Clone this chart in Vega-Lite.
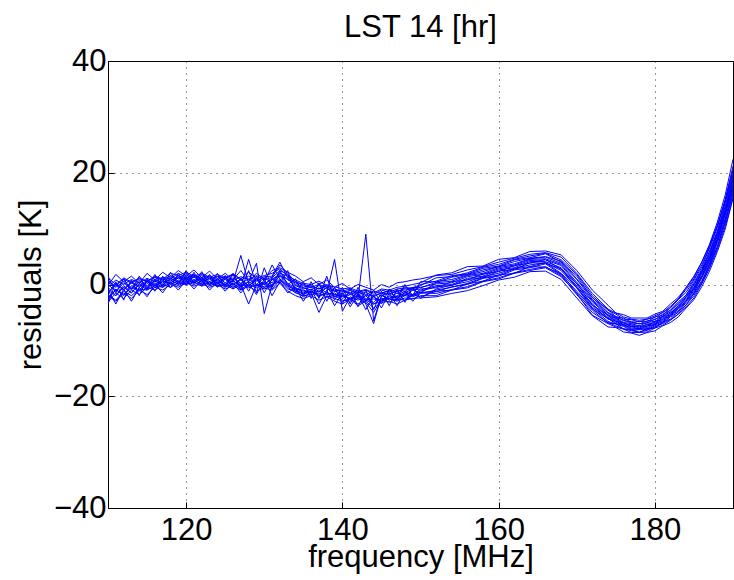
{"$schema":"https://vega.github.io/schema/vega-lite/v6.json","width":625,"height":447,"autosize":{"type":"none"},"padding":{"left":108,"top":61,"right":1,"bottom":72},
"title":{"text":"LST 14 [hr]","fontSize":31,"font":"Liberation Sans","fontWeight":"normal","color":"black","offset":1},
"config":{"view":{"stroke":"black","strokeWidth":1},"font":"Liberation Sans"},
"datasets":{"d":[
{"f":110,"s":1,"r":0.5},{"f":111,"s":1,"r":-0.3},{"f":112,"s":1,"r":1.2},{"f":113,"s":1,"r":0.4},{"f":114,"s":1,"r":1.0},{"f":115,"s":1,"r":0.6},{"f":116,"s":1,"r":1.5},{"f":117,"s":1,"r":1.0},{"f":118,"s":1,"r":2.0},{"f":119,"s":1,"r":1.6},{"f":120,"s":1,"r":2.2},{"f":121,"s":1,"r":1.5},{"f":122,"s":1,"r":2.0},{"f":123,"s":1,"r":1.3},{"f":124,"s":1,"r":1.8},{"f":125,"s":1,"r":1.2},{"f":126,"s":1,"r":1.9},{"f":127,"s":1,"r":1.0},{"f":128,"s":1,"r":2.2},{"f":129,"s":1,"r":1.1},{"f":130,"s":1,"r":1.6},{"f":131,"s":1,"r":2.0},{"f":132,"s":1,"r":2.8},{"f":133,"s":1,"r":1.5},{"f":134,"s":1,"r":0.8},{"f":135,"s":1,"r":0.2},{"f":136,"s":1,"r":0.0},{"f":137,"s":1,"r":0.6},{"f":138,"s":1,"r":-0.2},{"f":139,"s":1,"r":-0.4},{"f":140,"s":1,"r":-0.8},{"f":141,"s":1,"r":-0.6},{"f":142,"s":1,"r":-1.2},{"f":143,"s":1,"r":-0.9},{"f":144,"s":1,"r":-1.5},{"f":145,"s":1,"r":-0.8},{"f":146,"s":1,"r":-1.0},{"f":147,"s":1,"r":-0.5},{"f":148,"s":1,"r":-0.3},{"f":149,"s":1,"r":0.0},{"f":150,"s":1,"r":0.3},
{"f":152,"s":1,"r":1.7},{"f":154,"s":1,"r":2.1},{"f":156,"s":1,"r":3.2},{"f":158,"s":1,"r":3.3},{"f":160,"s":1,"r":4.5},{"f":162,"s":1,"r":4.8},{"f":164,"s":1,"r":5.9},{"f":166,"s":1,"r":6.0},{"f":168,"s":1,"r":5.3},{"f":170,"s":1,"r":2.5},{"f":172,"s":1,"r":-1.0},{"f":174,"s":1,"r":-3.7},{"f":175,"s":1,"r":-5.1},{"f":176,"s":1,"r":-5.4},{"f":177,"s":1,"r":-6.0},{"f":178,"s":1,"r":-6.0},{"f":179,"s":1,"r":-6.0},{"f":180,"s":1,"r":-5.3},{"f":181,"s":1,"r":-4.8},{"f":182,"s":1,"r":-3.5},{"f":183,"s":1,"r":-2.3},{"f":184,"s":1,"r":-0.6},{"f":185,"s":1,"r":1.3},{"f":186,"s":1,"r":4.0},{"f":187,"s":1,"r":7.2},{"f":188,"s":1,"r":11.2},{"f":189,"s":1,"r":16.0},{"f":190,"s":1,"r":22.4},
{"f":110,"s":2,"r":-0.5},{"f":111,"s":2,"r":0.8},{"f":112,"s":2,"r":0.0},{"f":113,"s":2,"r":0.9},{"f":114,"s":2,"r":0.3},{"f":115,"s":2,"r":1.1},{"f":116,"s":2,"r":0.5},{"f":117,"s":2,"r":1.3},{"f":118,"s":2,"r":1.0},{"f":119,"s":2,"r":2.0},{"f":120,"s":2,"r":1.2},{"f":121,"s":2,"r":1.8},{"f":122,"s":2,"r":1.0},{"f":123,"s":2,"r":1.6},{"f":124,"s":2,"r":0.8},{"f":125,"s":2,"r":1.5},{"f":126,"s":2,"r":0.7},{"f":127,"s":2,"r":1.4},{"f":128,"s":2,"r":0.9},{"f":129,"s":2,"r":1.6},{"f":130,"s":2,"r":0.8},{"f":131,"s":2,"r":1.3},{"f":132,"s":2,"r":3.5},{"f":133,"s":2,"r":2.0},{"f":134,"s":2,"r":0.5},{"f":135,"s":2,"r":-0.2},{"f":136,"s":2,"r":-0.5},{"f":137,"s":2,"r":0.0},{"f":138,"s":2,"r":-0.5},{"f":139,"s":2,"r":-1.0},{"f":140,"s":2,"r":-1.2},{"f":141,"s":2,"r":-1.5},{"f":142,"s":2,"r":-1.0},{"f":143,"s":2,"r":-1.8},{"f":144,"s":2,"r":-1.2},{"f":145,"s":2,"r":-1.6},{"f":146,"s":2,"r":-1.0},{"f":147,"s":2,"r":-1.3},{"f":148,"s":2,"r":-0.6},{"f":149,"s":2,"r":-0.8},{"f":150,"s":2,"r":-0.2},
{"f":152,"s":2,"r":1.2},{"f":154,"s":2,"r":1.4},{"f":156,"s":2,"r":2.1},{"f":158,"s":2,"r":3.1},{"f":160,"s":2,"r":3.6},{"f":162,"s":2,"r":4.5},{"f":164,"s":2,"r":5.1},{"f":166,"s":2,"r":5.6},{"f":168,"s":2,"r":4.4},{"f":170,"s":2,"r":1.8},{"f":172,"s":2,"r":-2.0},{"f":174,"s":2,"r":-4.6},{"f":175,"s":2,"r":-5.3},{"f":176,"s":2,"r":-6.2},{"f":177,"s":2,"r":-6.3},{"f":178,"s":2,"r":-6.7},{"f":179,"s":2,"r":-6.2},{"f":180,"s":2,"r":-5.9},{"f":181,"s":2,"r":-5.0},{"f":182,"s":2,"r":-4.2},{"f":183,"s":2,"r":-2.7},{"f":184,"s":2,"r":-1.4},{"f":185,"s":2,"r":0.8},{"f":186,"s":2,"r":3.1},{"f":187,"s":2,"r":6.5},{"f":188,"s":2,"r":10.2},{"f":189,"s":2,"r":15.1},{"f":190,"s":2,"r":20.6},
{"f":110,"s":3,"r":-1.5},{"f":111,"s":3,"r":0.2},{"f":112,"s":3,"r":-0.8},{"f":113,"s":3,"r":0.5},{"f":114,"s":3,"r":-0.3},{"f":115,"s":3,"r":0.8},{"f":116,"s":3,"r":0.0},{"f":117,"s":3,"r":1.0},{"f":118,"s":3,"r":0.6},{"f":119,"s":3,"r":1.5},{"f":120,"s":3,"r":1.0},{"f":121,"s":3,"r":1.7},{"f":122,"s":3,"r":0.8},{"f":123,"s":3,"r":1.4},{"f":124,"s":3,"r":0.5},{"f":125,"s":3,"r":1.2},{"f":126,"s":3,"r":0.4},{"f":127,"s":3,"r":5.2},{"f":128,"s":3,"r":0.2},{"f":129,"s":3,"r":1.0},{"f":130,"s":3,"r":0.0},{"f":131,"s":3,"r":1.2},{"f":132,"s":3,"r":2.5},{"f":133,"s":3,"r":1.8},{"f":134,"s":3,"r":0.0},{"f":135,"s":3,"r":-0.6},{"f":136,"s":3,"r":-1.0},{"f":137,"s":3,"r":-0.2},{"f":138,"s":3,"r":-0.8},{"f":139,"s":3,"r":-1.2},{"f":140,"s":3,"r":-1.6},{"f":141,"s":3,"r":-1.0},{"f":142,"s":3,"r":-1.8},{"f":143,"s":3,"r":-1.4},{"f":144,"s":3,"r":-2.2},{"f":145,"s":3,"r":-1.5},{"f":146,"s":3,"r":-1.8},{"f":147,"s":3,"r":-1.0},{"f":148,"s":3,"r":-1.2},{"f":149,"s":3,"r":-0.5},{"f":150,"s":3,"r":-0.6},
{"f":152,"s":3,"r":0.4},{"f":154,"s":3,"r":1.3},{"f":156,"s":3,"r":1.8},{"f":158,"s":3,"r":2.6},{"f":160,"s":3,"r":3.2},{"f":162,"s":3,"r":4.1},{"f":164,"s":3,"r":4.7},{"f":166,"s":3,"r":5.0},{"f":168,"s":3,"r":4.2},{"f":170,"s":3,"r":1.0},{"f":172,"s":3,"r":-2.3},{"f":174,"s":3,"r":-5.0},{"f":175,"s":3,"r":-5.7},{"f":176,"s":3,"r":-6.5},{"f":177,"s":3,"r":-6.6},{"f":178,"s":3,"r":-7.1},{"f":179,"s":3,"r":-6.5},{"f":180,"s":3,"r":-6.3},{"f":181,"s":3,"r":-5.3},{"f":182,"s":3,"r":-4.6},{"f":183,"s":3,"r":-3.1},{"f":184,"s":3,"r":-1.9},{"f":185,"s":3,"r":0.4},{"f":186,"s":3,"r":2.7},{"f":187,"s":3,"r":6.0},{"f":188,"s":3,"r":9.6},{"f":189,"s":3,"r":14.5},{"f":190,"s":3,"r":19.9},
{"f":110,"s":4,"r":-2.5},{"f":111,"s":4,"r":-1.0},{"f":112,"s":4,"r":-1.8},{"f":113,"s":4,"r":-0.5},{"f":114,"s":4,"r":-1.2},{"f":115,"s":4,"r":0.2},{"f":116,"s":4,"r":-0.5},{"f":117,"s":4,"r":0.5},{"f":118,"s":4,"r":0.2},{"f":119,"s":4,"r":1.2},{"f":120,"s":4,"r":0.5},{"f":121,"s":4,"r":1.4},{"f":122,"s":4,"r":0.3},{"f":123,"s":4,"r":1.2},{"f":124,"s":4,"r":0.2},{"f":125,"s":4,"r":0.9},{"f":126,"s":4,"r":0.0},{"f":127,"s":4,"r":1.0},{"f":128,"s":4,"r":-0.2},{"f":129,"s":4,"r":0.8},{"f":130,"s":4,"r":-0.5},{"f":131,"s":4,"r":0.8},{"f":132,"s":4,"r":2.0},{"f":133,"s":4,"r":1.5},{"f":134,"s":4,"r":-0.8},{"f":135,"s":4,"r":-1.2},{"f":136,"s":4,"r":-1.4},{"f":137,"s":4,"r":-0.6},{"f":138,"s":4,"r":-1.5},{"f":139,"s":4,"r":-1.8},{"f":140,"s":4,"r":-2.2},{"f":141,"s":4,"r":-1.5},{"f":142,"s":4,"r":-2.5},{"f":143,"s":4,"r":9.0},{"f":144,"s":4,"r":-6.5},{"f":145,"s":4,"r":-2.0},{"f":146,"s":4,"r":-2.5},{"f":147,"s":4,"r":-1.5},{"f":148,"s":4,"r":-2.0},{"f":149,"s":4,"r":-1.0},{"f":150,"s":4,"r":-1.5},
{"f":152,"s":4,"r":0.3},{"f":154,"s":4,"r":0.6},{"f":156,"s":4,"r":1.6},{"f":158,"s":4,"r":2.0},{"f":160,"s":4,"r":3.0},{"f":162,"s":4,"r":3.5},{"f":164,"s":4,"r":4.5},{"f":166,"s":4,"r":4.6},{"f":168,"s":4,"r":3.6},{"f":170,"s":4,"r":0.4},{"f":172,"s":4,"r":-2.9},{"f":174,"s":4,"r":-5.4},{"f":175,"s":4,"r":-6.0},{"f":176,"s":4,"r":-6.8},{"f":177,"s":4,"r":-7.0},{"f":178,"s":4,"r":-7.4},{"f":179,"s":4,"r":-6.8},{"f":180,"s":4,"r":-6.6},{"f":181,"s":4,"r":-5.7},{"f":182,"s":4,"r":-4.9},{"f":183,"s":4,"r":-3.5},{"f":184,"s":4,"r":-2.2},{"f":185,"s":4,"r":-0.1},{"f":186,"s":4,"r":2.3},{"f":187,"s":4,"r":5.4},{"f":188,"s":4,"r":9.2},{"f":189,"s":4,"r":13.6},{"f":190,"s":4,"r":19.1},
{"f":110,"s":5,"r":-1.0},{"f":111,"s":5,"r":-2.0},{"f":112,"s":5,"r":-0.5},{"f":113,"s":5,"r":-1.5},{"f":114,"s":5,"r":0.2},{"f":115,"s":5,"r":-0.8},{"f":116,"s":5,"r":0.8},{"f":117,"s":5,"r":-0.2},{"f":118,"s":5,"r":1.2},{"f":119,"s":5,"r":0.3},{"f":120,"s":5,"r":1.5},{"f":121,"s":5,"r":0.5},{"f":122,"s":5,"r":1.3},{"f":123,"s":5,"r":0.2},{"f":124,"s":5,"r":1.0},{"f":125,"s":5,"r":0.0},{"f":126,"s":5,"r":0.8},{"f":127,"s":5,"r":-0.5},{"f":128,"s":5,"r":4.5},{"f":129,"s":5,"r":-0.2},{"f":130,"s":5,"r":0.5},{"f":131,"s":5,"r":-0.5},{"f":132,"s":5,"r":1.8},{"f":133,"s":5,"r":0.2},{"f":134,"s":5,"r":-0.5},{"f":135,"s":5,"r":-1.5},{"f":136,"s":5,"r":-0.8},{"f":137,"s":5,"r":-1.8},{"f":138,"s":5,"r":-0.5},{"f":139,"s":5,"r":-2.2},{"f":140,"s":5,"r":-1.5},{"f":141,"s":5,"r":-2.8},{"f":142,"s":5,"r":-1.8},{"f":143,"s":5,"r":-2.5},{"f":144,"s":5,"r":-3.2},{"f":145,"s":5,"r":-1.8},{"f":146,"s":5,"r":-2.8},{"f":147,"s":5,"r":-2.0},{"f":148,"s":5,"r":-1.2},{"f":149,"s":5,"r":-2.0},{"f":150,"s":5,"r":-0.8},
{"f":152,"s":5,"r":-0.6},{"f":154,"s":5,"r":0.5},{"f":156,"s":5,"r":0.8},{"f":158,"s":5,"r":1.9},{"f":160,"s":5,"r":2.3},{"f":162,"s":5,"r":3.4},{"f":164,"s":5,"r":3.8},{"f":166,"s":5,"r":4.5},{"f":168,"s":5,"r":2.7},{"f":170,"s":5,"r":0.2},{"f":172,"s":5,"r":-3.7},{"f":174,"s":5,"r":-5.5},{"f":175,"s":5,"r":-6.6},{"f":176,"s":5,"r":-6.8},{"f":177,"s":5,"r":-7.6},{"f":178,"s":5,"r":-7.4},{"f":179,"s":5,"r":-7.5},{"f":180,"s":5,"r":-6.6},{"f":181,"s":5,"r":-6.3},{"f":182,"s":5,"r":-5.0},{"f":183,"s":5,"r":-4.2},{"f":184,"s":5,"r":-2.3},{"f":185,"s":5,"r":-0.8},{"f":186,"s":5,"r":2.0},{"f":187,"s":5,"r":4.6},{"f":188,"s":5,"r":8.7},{"f":189,"s":5,"r":12.8},{"f":190,"s":5,"r":18.5},
{"f":110,"s":6,"r":0.0},{"f":111,"s":6,"r":-1.2},{"f":112,"s":6,"r":0.3},{"f":113,"s":6,"r":-0.8},{"f":114,"s":6,"r":0.5},{"f":115,"s":6,"r":-0.5},{"f":116,"s":6,"r":0.6},{"f":117,"s":6,"r":0.0},{"f":118,"s":6,"r":1.0},{"f":119,"s":6,"r":0.5},{"f":120,"s":6,"r":1.2},{"f":121,"s":6,"r":0.3},{"f":122,"s":6,"r":1.0},{"f":123,"s":6,"r":0.0},{"f":124,"s":6,"r":0.8},{"f":125,"s":6,"r":-0.3},{"f":126,"s":6,"r":0.6},{"f":127,"s":6,"r":-0.2},{"f":128,"s":6,"r":0.5},{"f":129,"s":6,"r":3.8},{"f":130,"s":6,"r":-5.2},{"f":131,"s":6,"r":0.0},{"f":132,"s":6,"r":1.5},{"f":133,"s":6,"r":0.0},{"f":134,"s":6,"r":-0.8},{"f":135,"s":6,"r":-1.0},{"f":136,"s":6,"r":-1.5},{"f":137,"s":6,"r":-1.2},{"f":138,"s":6,"r":-1.8},{"f":139,"s":6,"r":-1.5},{"f":140,"s":6,"r":-2.5},{"f":141,"s":6,"r":-1.8},{"f":142,"s":6,"r":-2.2},{"f":143,"s":6,"r":-2.8},{"f":144,"s":6,"r":-2.2},{"f":145,"s":6,"r":-3.0},{"f":146,"s":6,"r":-2.0},{"f":147,"s":6,"r":-2.4},{"f":148,"s":6,"r":-1.5},{"f":149,"s":6,"r":-1.8},{"f":150,"s":6,"r":-1.2},
{"f":152,"s":6,"r":-0.4},{"f":154,"s":6,"r":-0.2},{"f":156,"s":6,"r":0.9},{"f":158,"s":6,"r":1.2},{"f":160,"s":6,"r":2.4},{"f":162,"s":6,"r":2.7},{"f":164,"s":6,"r":3.9},{"f":166,"s":6,"r":3.8},{"f":168,"s":6,"r":2.8},{"f":170,"s":6,"r":-0.6},{"f":172,"s":6,"r":-3.7},{"f":174,"s":6,"r":-6.2},{"f":175,"s":6,"r":-6.5},{"f":176,"s":6,"r":-7.4},{"f":177,"s":6,"r":-7.5},{"f":178,"s":6,"r":-8.0},{"f":179,"s":6,"r":-7.4},{"f":180,"s":6,"r":-7.2},{"f":181,"s":6,"r":-6.2},{"f":182,"s":6,"r":-5.6},{"f":183,"s":6,"r":-4.2},{"f":184,"s":6,"r":-2.9},{"f":185,"s":6,"r":-0.8},{"f":186,"s":6,"r":1.3},{"f":187,"s":6,"r":4.5},{"f":188,"s":6,"r":7.9},{"f":189,"s":6,"r":12.7},{"f":190,"s":6,"r":17.6},
{"f":110,"s":7,"r":-2.8},{"f":111,"s":7,"r":-0.8},{"f":112,"s":7,"r":-2.0},{"f":113,"s":7,"r":-0.2},{"f":114,"s":7,"r":-1.0},{"f":115,"s":7,"r":0.5},{"f":116,"s":7,"r":-0.3},{"f":117,"s":7,"r":0.8},{"f":118,"s":7,"r":0.0},{"f":119,"s":7,"r":0.6},{"f":120,"s":7,"r":0.2},{"f":121,"s":7,"r":0.8},{"f":122,"s":7,"r":0.0},{"f":123,"s":7,"r":0.5},{"f":124,"s":7,"r":-0.2},{"f":125,"s":7,"r":0.3},{"f":126,"s":7,"r":-0.5},{"f":127,"s":7,"r":0.2},{"f":128,"s":7,"r":-0.6},{"f":129,"s":7,"r":0.0},{"f":130,"s":7,"r":-0.8},{"f":131,"s":7,"r":-0.2},{"f":132,"s":7,"r":1.0},{"f":133,"s":7,"r":-0.3},{"f":134,"s":7,"r":-1.0},{"f":135,"s":7,"r":-1.8},{"f":136,"s":7,"r":-1.2},{"f":137,"s":7,"r":-2.0},{"f":138,"s":7,"r":-1.6},{"f":139,"s":7,"r":4.5},{"f":140,"s":7,"r":-4.8},{"f":141,"s":7,"r":-2.2},{"f":142,"s":7,"r":-2.8},{"f":143,"s":7,"r":-2.0},{"f":144,"s":7,"r":-3.5},{"f":145,"s":7,"r":-2.5},{"f":146,"s":7,"r":-2.6},{"f":147,"s":7,"r":-2.8},{"f":148,"s":7,"r":-2.0},{"f":149,"s":7,"r":-2.2},{"f":150,"s":7,"r":-1.6},
{"f":152,"s":7,"r":-1.0},{"f":154,"s":7,"r":-0.5},{"f":156,"s":7,"r":0.2},{"f":158,"s":7,"r":1.2},{"f":160,"s":7,"r":1.7},{"f":162,"s":7,"r":2.8},{"f":164,"s":7,"r":3.2},{"f":166,"s":7,"r":3.9},{"f":168,"s":7,"r":2.0},{"f":170,"s":7,"r":-0.6},{"f":172,"s":7,"r":-4.4},{"f":174,"s":7,"r":-6.1},{"f":175,"s":7,"r":-7.0},{"f":176,"s":7,"r":-7.3},{"f":177,"s":7,"r":-8.0},{"f":178,"s":7,"r":-8.0},{"f":179,"s":7,"r":-7.9},{"f":180,"s":7,"r":-7.2},{"f":181,"s":7,"r":-6.7},{"f":182,"s":7,"r":-5.6},{"f":183,"s":7,"r":-4.7},{"f":184,"s":7,"r":-3.0},{"f":185,"s":7,"r":-1.4},{"f":186,"s":7,"r":1.2},{"f":187,"s":7,"r":3.8},{"f":188,"s":7,"r":7.8},{"f":189,"s":7,"r":11.8},{"f":190,"s":7,"r":17.2},
{"f":110,"s":8,"r":-1.8},{"f":111,"s":8,"r":-2.8},{"f":112,"s":8,"r":-1.2},{"f":113,"s":8,"r":-2.0},{"f":114,"s":8,"r":-0.8},{"f":115,"s":8,"r":-1.0},{"f":116,"s":8,"r":-0.2},{"f":117,"s":8,"r":-0.5},{"f":118,"s":8,"r":0.3},{"f":119,"s":8,"r":-0.2},{"f":120,"s":8,"r":0.5},{"f":121,"s":8,"r":0.0},{"f":122,"s":8,"r":0.6},{"f":123,"s":8,"r":-0.2},{"f":124,"s":8,"r":0.3},{"f":125,"s":8,"r":-0.5},{"f":126,"s":8,"r":0.2},{"f":127,"s":8,"r":-0.8},{"f":128,"s":8,"r":0.0},{"f":129,"s":8,"r":-0.6},{"f":130,"s":8,"r":0.2},{"f":131,"s":8,"r":-0.8},{"f":132,"s":8,"r":0.8},{"f":133,"s":8,"r":-0.5},{"f":134,"s":8,"r":-1.5},{"f":135,"s":8,"r":-2.0},{"f":136,"s":8,"r":-1.8},{"f":137,"s":8,"r":-1.5},{"f":138,"s":8,"r":-2.2},{"f":139,"s":8,"r":-2.0},{"f":140,"s":8,"r":-2.8},{"f":141,"s":8,"r":-3.0},{"f":142,"s":8,"r":-2.5},{"f":143,"s":8,"r":-3.2},{"f":144,"s":8,"r":-5.0},{"f":145,"s":8,"r":-2.6},{"f":146,"s":8,"r":-3.2},{"f":147,"s":8,"r":-2.6},{"f":148,"s":8,"r":-2.8},{"f":149,"s":8,"r":-1.8},{"f":150,"s":8,"r":-2.2},
{"f":152,"s":8,"r":-1.2},{"f":154,"s":8,"r":-1.0},{"f":156,"s":8,"r":0.1},{"f":158,"s":8,"r":0.6},{"f":160,"s":8,"r":1.7},{"f":162,"s":8,"r":2.0},{"f":164,"s":8,"r":3.2},{"f":166,"s":8,"r":3.1},{"f":168,"s":8,"r":1.9},{"f":170,"s":8,"r":-1.5},{"f":172,"s":8,"r":-4.6},{"f":174,"s":8,"r":-6.9},{"f":175,"s":8,"r":-7.0},{"f":176,"s":8,"r":-8.0},{"f":177,"s":8,"r":-8.0},{"f":178,"s":8,"r":-8.6},{"f":179,"s":8,"r":-7.9},{"f":180,"s":8,"r":-7.8},{"f":181,"s":8,"r":-6.7},{"f":182,"s":8,"r":-6.2},{"f":183,"s":8,"r":-4.8},{"f":184,"s":8,"r":-3.7},{"f":185,"s":8,"r":-1.5},{"f":186,"s":8,"r":0.4},{"f":187,"s":8,"r":3.7},{"f":188,"s":8,"r":6.8},{"f":189,"s":8,"r":11.5},{"f":190,"s":8,"r":16.1},
{"f":110,"s":9,"r":-3.2},{"f":111,"s":9,"r":-1.5},{"f":112,"s":9,"r":-2.5},{"f":113,"s":9,"r":-1.0},{"f":114,"s":9,"r":-1.8},{"f":115,"s":9,"r":-0.5},{"f":116,"s":9,"r":-1.0},{"f":117,"s":9,"r":0.0},{"f":118,"s":9,"r":-0.5},{"f":119,"s":9,"r":0.3},{"f":120,"s":9,"r":0.0},{"f":121,"s":9,"r":0.5},{"f":122,"s":9,"r":-0.3},{"f":123,"s":9,"r":0.4},{"f":124,"s":9,"r":-0.4},{"f":125,"s":9,"r":0.0},{"f":126,"s":9,"r":-0.8},{"f":127,"s":9,"r":0.0},{"f":128,"s":9,"r":-3.5},{"f":129,"s":9,"r":0.0},{"f":130,"s":9,"r":-0.5},{"f":131,"s":9,"r":0.0},{"f":132,"s":9,"r":0.5},{"f":133,"s":9,"r":-0.8},{"f":134,"s":9,"r":-1.2},{"f":135,"s":9,"r":-2.2},{"f":136,"s":9,"r":-1.5},{"f":137,"s":9,"r":-5.0},{"f":138,"s":9,"r":-2.0},{"f":139,"s":9,"r":-2.5},{"f":140,"s":9,"r":-3.0},{"f":141,"s":9,"r":-2.5},{"f":142,"s":9,"r":-3.5},{"f":143,"s":9,"r":-2.8},{"f":144,"s":9,"r":-3.5},{"f":145,"s":9,"r":-3.0},{"f":146,"s":9,"r":-2.5},{"f":147,"s":9,"r":-3.0},{"f":148,"s":9,"r":-2.4},{"f":149,"s":9,"r":-2.6},{"f":150,"s":9,"r":-2.0},
{"f":152,"s":9,"r":-2.0},{"f":154,"s":9,"r":-1.0},{"f":156,"s":9,"r":-0.6},{"f":158,"s":9,"r":0.5},{"f":160,"s":9,"r":1.0},{"f":162,"s":9,"r":2.0},{"f":164,"s":9,"r":2.5},{"f":166,"s":9,"r":3.0},{"f":168,"s":9,"r":1.4},{"f":170,"s":9,"r":-1.6},{"f":172,"s":9,"r":-5.5},{"f":174,"s":9,"r":-7.0},{"f":175,"s":9,"r":-7.6},{"f":176,"s":9,"r":-8.0},{"f":177,"s":9,"r":-8.6},{"f":178,"s":9,"r":-8.6},{"f":179,"s":9,"r":-8.5},{"f":180,"s":9,"r":-7.8},{"f":181,"s":9,"r":-7.3},{"f":182,"s":9,"r":-6.4},{"f":183,"s":9,"r":-5.3},{"f":184,"s":9,"r":-4.0},{"f":185,"s":9,"r":-2.4},{"f":186,"s":9,"r":0.1},{"f":187,"s":9,"r":2.9},{"f":188,"s":9,"r":6.3},{"f":189,"s":9,"r":10.4},{"f":190,"s":9,"r":15.6},
{"f":110,"s":10,"r":-2.0},{"f":111,"s":10,"r":-3.0},{"f":112,"s":10,"r":-1.5},{"f":113,"s":10,"r":-2.5},{"f":114,"s":10,"r":-1.0},{"f":115,"s":10,"r":-1.8},{"f":116,"s":10,"r":-0.5},{"f":117,"s":10,"r":-1.0},{"f":118,"s":10,"r":0.0},{"f":119,"s":10,"r":-0.5},{"f":120,"s":10,"r":0.3},{"f":121,"s":10,"r":-0.3},{"f":122,"s":10,"r":0.2},{"f":123,"s":10,"r":-0.5},{"f":124,"s":10,"r":0.0},{"f":125,"s":10,"r":-0.8},{"f":126,"s":10,"r":-0.2},{"f":127,"s":10,"r":-1.0},{"f":128,"s":10,"r":-0.3},{"f":129,"s":10,"r":-1.2},{"f":130,"s":10,"r":-0.6},{"f":131,"s":10,"r":-1.0},{"f":132,"s":10,"r":0.2},{"f":133,"s":10,"r":-1.2},{"f":134,"s":10,"r":-2.0},{"f":135,"s":10,"r":-2.5},{"f":136,"s":10,"r":-2.0},{"f":137,"s":10,"r":-2.8},{"f":138,"s":10,"r":-2.2},{"f":139,"s":10,"r":-3.0},{"f":140,"s":10,"r":-3.5},{"f":141,"s":10,"r":-2.6},{"f":142,"s":10,"r":-3.8},{"f":143,"s":10,"r":-3.0},{"f":144,"s":10,"r":-4.2},{"f":145,"s":10,"r":-3.2},{"f":146,"s":10,"r":-3.0},{"f":147,"s":10,"r":-3.5},{"f":148,"s":10,"r":-2.8},{"f":149,"s":10,"r":-2.5},{"f":150,"s":10,"r":-2.4},
{"f":152,"s":10,"r":-2.2},{"f":154,"s":10,"r":-1.6},{"f":156,"s":10,"r":-1.1},{"f":158,"s":10,"r":-0.2},{"f":160,"s":10,"r":0.8},{"f":162,"s":10,"r":1.3},{"f":164,"s":10,"r":2.3},{"f":166,"s":10,"r":2.4},{"f":168,"s":10,"r":0.9},{"f":170,"s":10,"r":-2.4},{"f":172,"s":10,"r":-5.6},{"f":174,"s":10,"r":-7.6},{"f":175,"s":10,"r":-7.7},{"f":176,"s":10,"r":-8.5},{"f":177,"s":10,"r":-8.7},{"f":178,"s":10,"r":-9.1},{"f":179,"s":10,"r":-8.6},{"f":180,"s":10,"r":-8.3},{"f":181,"s":10,"r":-7.4},{"f":182,"s":10,"r":-6.8},{"f":183,"s":10,"r":-5.8},{"f":184,"s":10,"r":-4.2},{"f":185,"s":10,"r":-2.7},{"f":186,"s":10,"r":-0.4},{"f":187,"s":10,"r":2.4},{"f":188,"s":10,"r":5.9},{"f":189,"s":10,"r":9.9},{"f":190,"s":10,"r":15.4},
{"f":110,"s":11,"r":0.8},{"f":111,"s":11,"r":-0.5},{"f":112,"s":11,"r":0.6},{"f":113,"s":11,"r":-0.8},{"f":114,"s":11,"r":0.8},{"f":115,"s":11,"r":-0.3},{"f":116,"s":11,"r":1.0},{"f":117,"s":11,"r":0.2},{"f":118,"s":11,"r":1.5},{"f":119,"s":11,"r":0.6},{"f":120,"s":11,"r":1.8},{"f":121,"s":11,"r":0.8},{"f":122,"s":11,"r":1.6},{"f":123,"s":11,"r":0.5},{"f":124,"s":11,"r":1.4},{"f":125,"s":11,"r":0.3},{"f":126,"s":11,"r":1.2},{"f":127,"s":11,"r":0.2},{"f":128,"s":11,"r":1.0},{"f":129,"s":11,"r":0.0},{"f":130,"s":11,"r":1.2},{"f":131,"s":11,"r":0.3},{"f":132,"s":11,"r":2.2},{"f":133,"s":11,"r":0.8},{"f":134,"s":11,"r":0.3},{"f":135,"s":11,"r":-0.5},{"f":136,"s":11,"r":-0.2},{"f":137,"s":11,"r":-0.8},{"f":138,"s":11,"r":-0.3},{"f":139,"s":11,"r":-1.2},{"f":140,"s":11,"r":-1.0},{"f":141,"s":11,"r":-1.8},{"f":142,"s":11,"r":-1.3},{"f":143,"s":11,"r":-2.0},{"f":144,"s":11,"r":-2.0},{"f":145,"s":11,"r":-1.5},{"f":146,"s":11,"r":-1.2},{"f":147,"s":11,"r":-1.6},{"f":148,"s":11,"r":-0.8},{"f":149,"s":11,"r":-1.0},{"f":150,"s":11,"r":-0.5},
{"f":152,"s":11,"r":0.1},{"f":154,"s":11,"r":0.3},{"f":156,"s":11,"r":1.4},{"f":158,"s":11,"r":1.8},{"f":160,"s":11,"r":2.8},{"f":162,"s":11,"r":3.3},{"f":164,"s":11,"r":4.3},{"f":166,"s":11,"r":4.4},{"f":168,"s":11,"r":3.4},{"f":170,"s":11,"r":0.1},{"f":172,"s":11,"r":-3.1},{"f":174,"s":11,"r":-5.6},{"f":175,"s":11,"r":-6.1},{"f":176,"s":11,"r":-7.0},{"f":177,"s":11,"r":-7.2},{"f":178,"s":11,"r":-7.6},{"f":179,"s":11,"r":-7.1},{"f":180,"s":11,"r":-6.8},{"f":181,"s":11,"r":-5.8},{"f":182,"s":11,"r":-5.2},{"f":183,"s":11,"r":-3.8},{"f":184,"s":11,"r":-2.2},{"f":185,"s":11,"r":-0.5},{"f":186,"s":11,"r":2.2},{"f":187,"s":11,"r":5.0},{"f":188,"s":11,"r":9.0},{"f":189,"s":11,"r":13.2},{"f":190,"s":11,"r":18.9},
{"f":110,"s":12,"r":-1.5},{"f":111,"s":12,"r":0.0},{"f":112,"s":12,"r":-1.0},{"f":113,"s":12,"r":0.3},{"f":114,"s":12,"r":-0.5},{"f":115,"s":12,"r":0.5},{"f":116,"s":12,"r":-0.2},{"f":117,"s":12,"r":0.6},{"f":118,"s":12,"r":0.3},{"f":119,"s":12,"r":1.3},{"f":120,"s":12,"r":0.8},{"f":121,"s":12,"r":1.5},{"f":122,"s":12,"r":0.6},{"f":123,"s":12,"r":1.0},{"f":124,"s":12,"r":0.2},{"f":125,"s":12,"r":1.0},{"f":126,"s":12,"r":0.0},{"f":127,"s":12,"r":0.8},{"f":128,"s":12,"r":-0.3},{"f":129,"s":12,"r":1.0},{"f":130,"s":12,"r":0.0},{"f":131,"s":12,"r":1.0},{"f":132,"s":12,"r":1.6},{"f":133,"s":12,"r":1.0},{"f":134,"s":12,"r":-0.2},{"f":135,"s":12,"r":-0.8},{"f":136,"s":12,"r":-0.5},{"f":137,"s":12,"r":-1.2},{"f":138,"s":12,"r":-0.6},{"f":139,"s":12,"r":-1.8},{"f":140,"s":12,"r":-2.0},{"f":141,"s":12,"r":-2.5},{"f":142,"s":12,"r":-1.5},{"f":143,"s":12,"r":-3.5},{"f":144,"s":12,"r":-7.0},{"f":145,"s":12,"r":-2.0},{"f":146,"s":12,"r":-1.5},{"f":147,"s":12,"r":-2.2},{"f":148,"s":12,"r":-1.5},{"f":149,"s":12,"r":-0.8},{"f":150,"s":12,"r":-1.0},
{"f":152,"s":12,"r":-0.2},{"f":154,"s":12,"r":0.0},{"f":156,"s":12,"r":1.1},{"f":158,"s":12,"r":1.5},{"f":160,"s":12,"r":2.6},{"f":162,"s":12,"r":3.0},{"f":164,"s":12,"r":4.1},{"f":166,"s":12,"r":4.1},{"f":168,"s":12,"r":3.0},{"f":170,"s":12,"r":-0.3},{"f":172,"s":12,"r":-3.5},{"f":174,"s":12,"r":-5.9},{"f":175,"s":12,"r":-6.3},{"f":176,"s":12,"r":-7.2},{"f":177,"s":12,"r":-7.3},{"f":178,"s":12,"r":-7.8},{"f":179,"s":12,"r":-7.2},{"f":180,"s":12,"r":-7.0},{"f":181,"s":12,"r":-6.0},{"f":182,"s":12,"r":-5.4},{"f":183,"s":12,"r":-3.9},{"f":184,"s":12,"r":-2.7},{"f":185,"s":12,"r":-0.5},{"f":186,"s":12,"r":1.6},{"f":187,"s":12,"r":4.9},{"f":188,"s":12,"r":8.2},{"f":189,"s":12,"r":13.1},{"f":190,"s":12,"r":18.0},
{"f":110,"s":13,"r":1.2},{"f":111,"s":13,"r":0.0},{"f":112,"s":13,"r":1.0},{"f":113,"s":13,"r":0.2},{"f":114,"s":13,"r":1.2},{"f":115,"s":13,"r":0.5},{"f":116,"s":13,"r":1.3},{"f":117,"s":13,"r":0.8},{"f":118,"s":13,"r":1.6},{"f":119,"s":13,"r":1.0},{"f":120,"s":13,"r":2.0},{"f":121,"s":13,"r":1.2},{"f":122,"s":13,"r":1.8},{"f":123,"s":13,"r":1.0},{"f":124,"s":13,"r":1.5},{"f":125,"s":13,"r":1.0},{"f":126,"s":13,"r":1.8},{"f":127,"s":13,"r":0.8},{"f":128,"s":13,"r":1.5},{"f":129,"s":13,"r":0.6},{"f":130,"s":13,"r":1.4},{"f":131,"s":13,"r":1.5},{"f":132,"s":13,"r":4.0},{"f":133,"s":13,"r":1.2},{"f":134,"s":13,"r":0.5},{"f":135,"s":13,"r":0.0},{"f":136,"s":13,"r":-0.3},{"f":137,"s":13,"r":-0.8},{"f":138,"s":13,"r":0.0},{"f":139,"s":13,"r":-0.8},{"f":140,"s":13,"r":-1.2},{"f":141,"s":13,"r":-0.8},{"f":142,"s":13,"r":-1.5},{"f":143,"s":13,"r":-1.0},{"f":144,"s":13,"r":-1.8},{"f":145,"s":13,"r":-1.0},{"f":146,"s":13,"r":-1.4},{"f":147,"s":13,"r":-0.8},{"f":148,"s":13,"r":-0.6},{"f":149,"s":13,"r":-0.6},{"f":150,"s":13,"r":0.0},
{"f":152,"s":13,"r":0.6},{"f":154,"s":13,"r":1.6},{"f":156,"s":13,"r":1.9},{"f":158,"s":13,"r":2.9},{"f":160,"s":13,"r":3.3},{"f":162,"s":13,"r":4.4},{"f":164,"s":13,"r":4.8},{"f":166,"s":13,"r":5.5},{"f":168,"s":13,"r":4.0},{"f":170,"s":13,"r":1.5},{"f":172,"s":13,"r":-2.4},{"f":174,"s":13,"r":-4.5},{"f":175,"s":13,"r":-5.8},{"f":176,"s":13,"r":-6.0},{"f":177,"s":13,"r":-6.8},{"f":178,"s":13,"r":-6.6},{"f":179,"s":13,"r":-6.7},{"f":180,"s":13,"r":-5.8},{"f":181,"s":13,"r":-5.5},{"f":182,"s":13,"r":-4.1},{"f":183,"s":13,"r":-2.6},{"f":184,"s":13,"r":-0.5},{"f":185,"s":13,"r":1.5},{"f":186,"s":13,"r":4.0},{"f":187,"s":13,"r":7.0},{"f":188,"s":13,"r":10.6},{"f":189,"s":13,"r":14.8},{"f":190,"s":13,"r":20.3},
{"f":110,"s":14,"r":-0.5},{"f":111,"s":14,"r":-2.0},{"f":112,"s":14,"r":-0.2},{"f":113,"s":14,"r":-1.5},{"f":114,"s":14,"r":0.0},{"f":115,"s":14,"r":-1.0},{"f":116,"s":14,"r":0.3},{"f":117,"s":14,"r":-0.5},{"f":118,"s":14,"r":0.8},{"f":119,"s":14,"r":0.0},{"f":120,"s":14,"r":1.0},{"f":121,"s":14,"r":0.2},{"f":122,"s":14,"r":1.2},{"f":123,"s":14,"r":0.0},{"f":124,"s":14,"r":1.0},{"f":125,"s":14,"r":-0.2},{"f":126,"s":14,"r":2.0},{"f":127,"s":14,"r":-0.5},{"f":128,"s":14,"r":0.5},{"f":129,"s":14,"r":-0.3},{"f":130,"s":14,"r":0.3},{"f":131,"s":14,"r":3.5},{"f":132,"s":14,"r":1.0},{"f":133,"s":14,"r":-0.2},{"f":134,"s":14,"r":-1.0},{"f":135,"s":14,"r":-1.6},{"f":136,"s":14,"r":-1.2},{"f":137,"s":14,"r":-2.2},{"f":138,"s":14,"r":-1.4},{"f":139,"s":14,"r":-2.2},{"f":140,"s":14,"r":-1.8},{"f":141,"s":14,"r":-2.6},{"f":142,"s":14,"r":-2.0},{"f":143,"s":14,"r":-2.8},{"f":144,"s":14,"r":-2.6},{"f":145,"s":14,"r":-2.8},{"f":146,"s":14,"r":-2.2},{"f":147,"s":14,"r":-2.5},{"f":148,"s":14,"r":-1.8},{"f":149,"s":14,"r":-2.0},{"f":150,"s":14,"r":-1.4},
{"f":152,"s":14,"r":-1.3},{"f":154,"s":14,"r":-0.4},{"f":156,"s":14,"r":0.0},{"f":158,"s":14,"r":1.1},{"f":160,"s":14,"r":1.5},{"f":162,"s":14,"r":2.6},{"f":164,"s":14,"r":3.0},{"f":166,"s":14,"r":3.7},{"f":168,"s":14,"r":1.8},{"f":170,"s":14,"r":-1.2},{"f":172,"s":14,"r":-4.3},{"f":174,"s":14,"r":-6.6},{"f":175,"s":14,"r":-7.1},{"f":176,"s":14,"r":-7.5},{"f":177,"s":14,"r":-8.2},{"f":178,"s":14,"r":-8.1},{"f":179,"s":14,"r":-8.1},{"f":180,"s":14,"r":-7.4},{"f":181,"s":14,"r":-6.9},{"f":182,"s":14,"r":-5.8},{"f":183,"s":14,"r":-5.0},{"f":184,"s":14,"r":-3.2},{"f":185,"s":14,"r":-1.7},{"f":186,"s":14,"r":0.7},{"f":187,"s":14,"r":3.4},{"f":188,"s":14,"r":7.5},{"f":189,"s":14,"r":11.2},{"f":190,"s":14,"r":16.9},
{"f":110,"s":15,"r":1.5},{"f":111,"s":15,"r":-1.5},{"f":112,"s":15,"r":1.0},{"f":113,"s":15,"r":-1.0},{"f":114,"s":15,"r":1.5},{"f":115,"s":15,"r":-0.8},{"f":116,"s":15,"r":1.8},{"f":117,"s":15,"r":-0.5},{"f":118,"s":15,"r":2.2},{"f":119,"s":15,"r":0.0},{"f":120,"s":15,"r":2.5},{"f":121,"s":15,"r":0.2},{"f":122,"s":15,"r":2.3},{"f":123,"s":15,"r":-0.2},{"f":124,"s":15,"r":2.0},{"f":125,"s":15,"r":-0.5},{"f":126,"s":15,"r":1.8},{"f":127,"s":15,"r":-1.0},{"f":128,"s":15,"r":2.5},{"f":129,"s":15,"r":-1.5},{"f":130,"s":15,"r":3.0},{"f":131,"s":15,"r":-0.5},{"f":132,"s":15,"r":2.5},{"f":133,"s":15,"r":0.0},{"f":134,"s":15,"r":1.0},{"f":135,"s":15,"r":-2.0},{"f":136,"s":15,"r":0.5},{"f":137,"s":15,"r":-2.5},{"f":138,"s":15,"r":1.5},{"f":139,"s":15,"r":-2.8},{"f":140,"s":15,"r":-0.5},{"f":141,"s":15,"r":-3.5},{"f":142,"s":15,"r":-0.5},{"f":143,"s":15,"r":-3.0},{"f":144,"s":15,"r":-1.0},{"f":145,"s":15,"r":-3.5},{"f":146,"s":15,"r":-0.8},{"f":147,"s":15,"r":-2.8},{"f":148,"s":15,"r":0.0},{"f":149,"s":15,"r":-2.0},{"f":150,"s":15,"r":0.5},
{"f":152,"s":15,"r":0.5},{"f":154,"s":15,"r":0.9},{"f":156,"s":15,"r":1.7},{"f":158,"s":15,"r":2.3},{"f":160,"s":15,"r":3.2},{"f":162,"s":15,"r":3.7},{"f":164,"s":15,"r":4.6},{"f":166,"s":15,"r":4.9},{"f":168,"s":15,"r":3.8},{"f":170,"s":15,"r":0.9},{"f":172,"s":15,"r":-2.7},{"f":174,"s":15,"r":-5.1},{"f":175,"s":15,"r":-5.9},{"f":176,"s":15,"r":-6.4},{"f":177,"s":15,"r":-6.9},{"f":178,"s":15,"r":-7.0},{"f":179,"s":15,"r":-6.9},{"f":180,"s":15,"r":-6.2},{"f":181,"s":15,"r":-5.7},{"f":182,"s":15,"r":-4.6},{"f":183,"s":15,"r":-3.4},{"f":184,"s":15,"r":-1.9},{"f":185,"s":15,"r":0.1},{"f":186,"s":15,"r":2.5},{"f":187,"s":15,"r":5.7},{"f":188,"s":15,"r":9.4},{"f":189,"s":15,"r":14.0},{"f":190,"s":15,"r":19.5},
{"f":110,"s":16,"r":-3.5},{"f":111,"s":16,"r":0.5},{"f":112,"s":16,"r":-2.8},{"f":113,"s":16,"r":0.8},{"f":114,"s":16,"r":-2.0},{"f":115,"s":16,"r":1.0},{"f":116,"s":16,"r":-1.2},{"f":117,"s":16,"r":1.5},{"f":118,"s":16,"r":-0.6},{"f":119,"s":16,"r":2.0},{"f":120,"s":16,"r":-0.2},{"f":121,"s":16,"r":2.2},{"f":122,"s":16,"r":-0.3},{"f":123,"s":16,"r":1.8},{"f":124,"s":16,"r":-0.5},{"f":125,"s":16,"r":1.6},{"f":126,"s":16,"r":-0.8},{"f":127,"s":16,"r":1.2},{"f":128,"s":16,"r":-1.2},{"f":129,"s":16,"r":1.5},{"f":130,"s":16,"r":-1.5},{"f":131,"s":16,"r":1.0},{"f":132,"s":16,"r":0.2},{"f":133,"s":16,"r":2.5},{"f":134,"s":16,"r":-1.5},{"f":135,"s":16,"r":0.5},{"f":136,"s":16,"r":-2.5},{"f":137,"s":16,"r":0.3},{"f":138,"s":16,"r":-3.0},{"f":139,"s":16,"r":-0.5},{"f":140,"s":16,"r":-3.5},{"f":141,"s":16,"r":-0.8},{"f":142,"s":16,"r":-4.0},{"f":143,"s":16,"r":-1.0},{"f":144,"s":16,"r":-4.5},{"f":145,"s":16,"r":-1.2},{"f":146,"s":16,"r":-3.8},{"f":147,"s":16,"r":-0.8},{"f":148,"s":16,"r":-3.2},{"f":149,"s":16,"r":-0.5},{"f":150,"s":16,"r":-2.5},
{"f":152,"s":16,"r":-0.8},{"f":154,"s":16,"r":-0.1},{"f":156,"s":16,"r":0.5},{"f":158,"s":16,"r":1.4},{"f":160,"s":16,"r":2.0},{"f":162,"s":16,"r":2.9},{"f":164,"s":16,"r":3.5},{"f":166,"s":16,"r":3.9},{"f":168,"s":16,"r":2.5},{"f":170,"s":16,"r":-0.5},{"f":172,"s":16,"r":-4.1},{"f":174,"s":16,"r":-6.0},{"f":175,"s":16,"r":-6.8},{"f":176,"s":16,"r":-7.2},{"f":177,"s":16,"r":-7.8},{"f":178,"s":16,"r":-7.9},{"f":179,"s":16,"r":-7.7},{"f":180,"s":16,"r":-7.0},{"f":181,"s":16,"r":-6.5},{"f":182,"s":16,"r":-5.5},{"f":183,"s":16,"r":-4.4},{"f":184,"s":16,"r":-2.9},{"f":185,"s":16,"r":-1.1},{"f":186,"s":16,"r":1.4},{"f":187,"s":16,"r":4.2},{"f":188,"s":16,"r":8.0},{"f":189,"s":16,"r":12.4},{"f":190,"s":16,"r":17.5},
{"f":110,"s":17,"r":-0.2},{"f":111,"s":17,"r":1.8},{"f":112,"s":17,"r":0.5},{"f":113,"s":17,"r":1.5},{"f":114,"s":17,"r":0.2},{"f":115,"s":17,"r":2.0},{"f":116,"s":17,"r":0.8},{"f":117,"s":17,"r":2.2},{"f":118,"s":17,"r":1.2},{"f":119,"s":17,"r":2.5},{"f":120,"s":17,"r":1.5},{"f":121,"s":17,"r":2.6},{"f":122,"s":17,"r":1.2},{"f":123,"s":17,"r":2.4},{"f":124,"s":17,"r":1.0},{"f":125,"s":17,"r":2.0},{"f":126,"s":17,"r":0.8},{"f":127,"s":17,"r":2.5},{"f":128,"s":17,"r":0.5},{"f":129,"s":17,"r":2.0},{"f":130,"s":17,"r":1.0},{"f":131,"s":17,"r":2.5},{"f":132,"s":17,"r":3.0},{"f":133,"s":17,"r":2.2},{"f":134,"s":17,"r":1.5},{"f":135,"s":17,"r":0.5},{"f":136,"s":17,"r":1.2},{"f":137,"s":17,"r":0.0},{"f":138,"s":17,"r":0.8},{"f":139,"s":17,"r":-0.5},{"f":140,"s":17,"r":0.2},{"f":141,"s":17,"r":-0.8},{"f":142,"s":17,"r":0.0},{"f":143,"s":17,"r":-0.5},{"f":144,"s":17,"r":-1.0},{"f":145,"s":17,"r":0.0},{"f":146,"s":17,"r":-0.5},{"f":147,"s":17,"r":0.3},{"f":148,"s":17,"r":0.5},{"f":149,"s":17,"r":0.8},{"f":150,"s":17,"r":1.0},
{"f":152,"s":17,"r":1.6},{"f":154,"s":17,"r":1.8},{"f":156,"s":17,"r":2.6},{"f":158,"s":17,"r":3.2},{"f":160,"s":17,"r":4.0},{"f":162,"s":17,"r":4.7},{"f":164,"s":17,"r":5.4},{"f":166,"s":17,"r":5.7},{"f":168,"s":17,"r":4.9},{"f":170,"s":17,"r":2.0},{"f":172,"s":17,"r":-1.6},{"f":174,"s":17,"r":-4.4},{"f":175,"s":17,"r":-5.1},{"f":176,"s":17,"r":-5.8},{"f":177,"s":17,"r":-6.2},{"f":178,"s":17,"r":-6.4},{"f":179,"s":17,"r":-6.2},{"f":180,"s":17,"r":-5.6},{"f":181,"s":17,"r":-5.0},{"f":182,"s":17,"r":-3.9},{"f":183,"s":17,"r":-2.6},{"f":184,"s":17,"r":-0.9},{"f":185,"s":17,"r":1.0},{"f":186,"s":17,"r":3.5},{"f":187,"s":17,"r":6.7},{"f":188,"s":17,"r":10.6},{"f":189,"s":17,"r":15.2},{"f":190,"s":17,"r":21.2},
{"f":110,"s":18,"r":-1.0},{"f":111,"s":18,"r":-3.5},{"f":112,"s":18,"r":-0.8},{"f":113,"s":18,"r":-3.0},{"f":114,"s":18,"r":-0.5},{"f":115,"s":18,"r":-2.2},{"f":116,"s":18,"r":0.0},{"f":117,"s":18,"r":-1.5},{"f":118,"s":18,"r":0.5},{"f":119,"s":18,"r":-1.0},{"f":120,"s":18,"r":0.8},{"f":121,"s":18,"r":-0.8},{"f":122,"s":18,"r":0.8},{"f":123,"s":18,"r":-1.0},{"f":124,"s":18,"r":0.5},{"f":125,"s":18,"r":-1.2},{"f":126,"s":18,"r":0.3},{"f":127,"s":18,"r":-1.5},{"f":128,"s":18,"r":0.2},{"f":129,"s":18,"r":-1.8},{"f":130,"s":18,"r":1.0},{"f":131,"s":18,"r":-2.0},{"f":132,"s":18,"r":0.5},{"f":133,"s":18,"r":-1.5},{"f":134,"s":18,"r":-0.5},{"f":135,"s":18,"r":-3.0},{"f":136,"s":18,"r":-0.8},{"f":137,"s":18,"r":-3.5},{"f":138,"s":18,"r":-1.0},{"f":139,"s":18,"r":-3.8},{"f":140,"s":18,"r":-1.5},{"f":141,"s":18,"r":-4.0},{"f":142,"s":18,"r":-1.8},{"f":143,"s":18,"r":-4.5},{"f":144,"s":18,"r":-2.0},{"f":145,"s":18,"r":-4.2},{"f":146,"s":18,"r":-1.5},{"f":147,"s":18,"r":-3.8},{"f":148,"s":18,"r":-1.2},{"f":149,"s":18,"r":-3.0},{"f":150,"s":18,"r":-1.5},
{"f":152,"s":18,"r":-1.6},{"f":154,"s":18,"r":-0.9},{"f":156,"s":18,"r":-0.4},{"f":158,"s":18,"r":0.6},{"f":160,"s":18,"r":1.2},{"f":162,"s":18,"r":2.1},{"f":164,"s":18,"r":2.7},{"f":166,"s":18,"r":3.2},{"f":168,"s":18,"r":1.6},{"f":170,"s":18,"r":-1.8},{"f":172,"s":18,"r":-5.0},{"f":174,"s":18,"r":-6.8},{"f":175,"s":18,"r":-7.4},{"f":176,"s":18,"r":-7.9},{"f":177,"s":18,"r":-8.3},{"f":178,"s":18,"r":-8.5},{"f":179,"s":18,"r":-8.2},{"f":180,"s":18,"r":-7.6},{"f":181,"s":18,"r":-7.0},{"f":182,"s":18,"r":-6.3},{"f":183,"s":18,"r":-5.3},{"f":184,"s":18,"r":-3.6},{"f":185,"s":18,"r":-2.0},{"f":186,"s":18,"r":0.3},{"f":187,"s":18,"r":3.2},{"f":188,"s":18,"r":6.7},{"f":189,"s":18,"r":10.9},{"f":190,"s":18,"r":16.4}
]},
"data":{"name":"d"},
"mark":{"type":"line","color":"#0000ff","strokeWidth":1,"clip":true},
"encoding":{
"x":{"field":"f","type":"quantitative","scale":{"domain":[110,190],"nice":false,"zero":false},
"axis":{"values":[120,140,160,180],"title":"frequency [MHz]","titleFontSize":31,"titleFontWeight":"normal","titleColor":"black","titlePadding":-3,"labelFontSize":31,"labelColor":"black","labelPadding":13,"tickSize":-6,"tickColor":"black","domain":false,"grid":true,"gridColor":"black","gridDash":[1,5],"gridOpacity":0.8}},
"y":{"field":"r","type":"quantitative","scale":{"domain":[-40,40],"nice":false},
"axis":{"values":[-40,-20,0,20,40],"title":"residuals [K]","titleFontSize":31,"titleFontWeight":"normal","titleColor":"black","titlePadding":6,"labelFontSize":31,"labelColor":"black","labelPadding":8,"tickSize":-6,"tickColor":"black","domain":false,"grid":true,"gridColor":"black","gridDash":[1,5],"gridOpacity":0.8}},
"detail":{"field":"s","type":"nominal"}
}}
